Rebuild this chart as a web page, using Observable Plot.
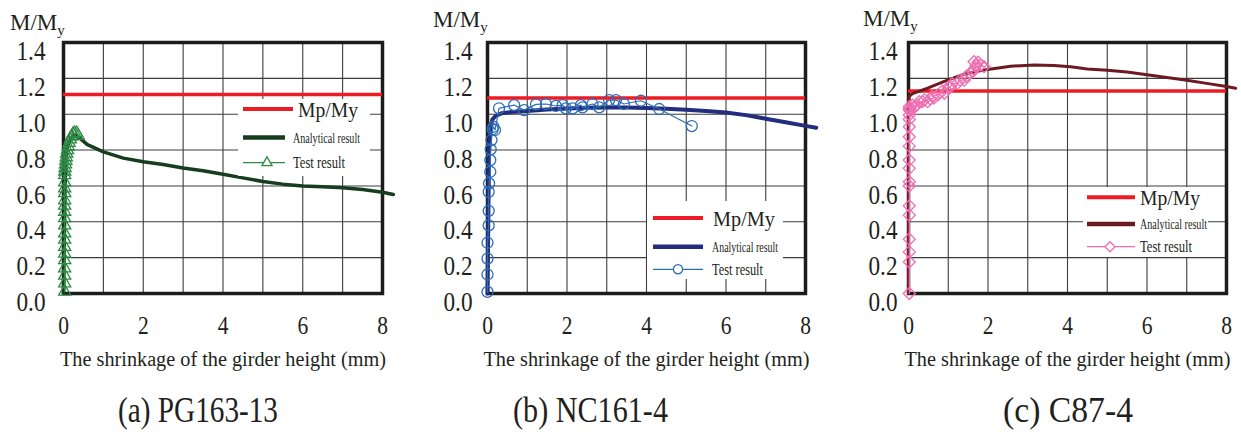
<!DOCTYPE html>
<html><head><meta charset="utf-8">
<script src="https://cdn.jsdelivr.net/npm/d3@7"></script>
<script src="https://cdn.jsdelivr.net/npm/@observablehq/plot@0.6"></script>
<style>
body{margin:0;background:#fff;font-family:"Liberation Serif","DejaVu Serif",serif;color:#231f20;}
#root{position:relative;width:1241px;height:437px;overflow:hidden;}
#root svg, #root svg text, #root svg tspan{font-family:"Liberation Serif","DejaVu Serif",serif !important;}
.abs{position:absolute;}
.ylab{font-size:23px;line-height:1;white-space:nowrap;}
.ylab sub{font-size:15px;vertical-align:-5px;line-height:0;}
.cap{font-size:36px;line-height:1;white-space:nowrap;transform-origin:0 0;}
</style></head><body><div id="root"></div>
<script>
// ---------- data ----------
const xTicks = [0, 2, 4, 6, 8];
const xGrid = [0, 1, 2, 3, 4, 5, 6, 7, 8];
const yTicks = [0, 0.2, 0.4, 0.6, 0.8, 1.0, 1.2, 1.4];
const xTitle = "The shrinkage of the girder height (mm)";
const yTitleMain = "M/M";
const yTitleSub = "y";
const captions = ["(a) PG163-13", "(b) NC161-4", "(c) C87-4"];
const legendLabels = ["Mp/My", "Analytical result", "Test result"];
const mpMy = [1.11, 1.09, 1.13];

const pgAnalytical = [[0,0],[0.02,0.3],[0.04,0.6],[0.06,0.75],[0.1,0.82],[0.18,0.86],[0.28,0.885],[0.36,0.875],[0.6,0.83],[1.0,0.79],[1.5,0.755],[2.0,0.735],[2.5,0.72],[3.0,0.70],[3.5,0.685],[4.0,0.665],[4.5,0.645],[5.0,0.625],[5.5,0.61],[6.0,0.60],[6.5,0.595],[7.0,0.59],[7.5,0.58],[8.0,0.565],[8.27,0.552]];
const pgTest = [[0.03,0.01],[0.03,0.056],[0.03,0.10],[0.03,0.14],[0.03,0.186],[0.03,0.223],[0.03,0.26],[0.03,0.30],[0.03,0.335],[0.03,0.38],[0.03,0.42],[0.03,0.456],[0.03,0.49],[0.03,0.52],[0.03,0.56],[0.03,0.586],[0.03,0.62],[0.03,0.66],[0.03,0.68],[0.04,0.70],[0.05,0.72],[0.06,0.74],[0.07,0.76],[0.08,0.78],[0.10,0.80],[0.12,0.82],[0.14,0.84],[0.17,0.86],[0.20,0.875],[0.24,0.89],[0.28,0.895],[0.33,0.895],[0.37,0.88]];

const ncAnalytical = [[0,0],[0.02,0.4],[0.04,0.8],[0.07,0.92],[0.12,0.97],[0.2,0.99],[0.35,1.005],[0.6,1.012],[1.0,1.018],[1.5,1.026],[2.0,1.032],[2.5,1.036],[3.0,1.038],[3.5,1.038],[4.0,1.035],[4.5,1.03],[5.0,1.025],[5.5,1.018],[6.0,1.01],[6.5,0.995],[7.0,0.975],[7.5,0.955],[8.0,0.935],[8.27,0.925]];
const ncTest = [[0,0.009],[0,0.106],[0,0.195],[0,0.283],[0.03,0.38],[0.03,0.461],[0.03,0.567],[0.04,0.614],[0.07,0.679],[0.07,0.744],[0.08,0.804],[0.1,0.856],[0.13,0.916],[0.15,0.93],[0.19,0.912],[0.29,1.033],[0.67,1.051],[0.92,1.023],[1.22,1.055],[1.47,1.057],[1.72,1.046],[1.89,1.051],[1.97,1.033],[2.14,1.033],[2.35,1.051],[2.39,1.038],[2.64,1.057],[2.81,1.038],[3.06,1.079],[3.23,1.079],[3.43,1.057],[3.86,1.075],[4.32,1.029],[5.14,0.934]];

const cAnalytical = [[0,0],[0.0,0.5],[0.0,1.0],[0.02,1.1],[0.1,1.115],[0.48,1.145],[0.98,1.19],[1.4,1.224],[1.99,1.25],[2.57,1.268],[3.16,1.275],[3.66,1.272],[4.08,1.265],[4.5,1.252],[5.0,1.245],[5.5,1.235],[6.0,1.22],[6.5,1.205],[7.0,1.19],[7.5,1.172],[8.0,1.155],[8.23,1.145]];
const cTest = [[0.02,0.0],[0.02,0.176],[0.02,0.232],[0.02,0.303],[0.02,0.437],[0.02,0.489],[0.02,0.6],[0.02,0.623],[0.02,0.698],[0.02,0.744],[0.02,0.822],[0.02,0.874],[0.02,0.93],[0.02,0.971],[0.02,0.996],[0.02,1.023],[0.02,1.042],[0.05,1.02],[0.1,1.05],[0.03,1.03],[0.15,1.04],[0.27,1.07],[0.2,1.05],[0.35,1.07],[0.48,1.07],[0.4,1.08],[0.55,1.085],[0.64,1.09],[0.6,1.1],[0.75,1.11],[0.9,1.117],[0.85,1.13],[1.0,1.15],[1.06,1.153],[1.1,1.17],[1.23,1.172],[1.3,1.19],[1.4,1.19],[1.45,1.21],[1.55,1.23],[1.61,1.237],[1.65,1.25],[1.7,1.27],[1.65,1.293],[1.82,1.275],[1.9,1.265],[1.75,1.29]];

// ---------- layout / style ----------
const FONT = "Liberation Serif";
const panels = [
  {left:0, w:414, ml:63, mr:32, yPad:18, mp:mpMy[0], analytical:pgAnalytical, test:pgTest,
   aColor:"#173d21", aWidth:3.5, tColor:"#2f8a45", symbol:"triangle2", r:5.8,
   ylab:{x:10,y:11}, cap:[118,160],
   leg:{x:238,y:99,w:132,h:77, rows:[109,137.5,162.7], l0:243, l1:[293,285,285], tx:[298,293,293], tw:[60,67,52], mk:267}},
  {left:414, w:414, ml:73, mr:23, yPad:15, mp:mpMy[1], analytical:ncAnalytical, test:ncTest,
   aColor:"#232d7e", aWidth:4, tColor:"#2e6db6", symbol:"circle", r:5.5,
   ylab:{x:433,y:8}, cap:[513,155],
   leg:{x:647,y:201,w:136,h:78, rows:[218,246.7,269.3], l0:653, l1:[703,703,703], tx:[713,712,712], tw:[62,66,51], mk:678}},
  {left:828, w:413, ml:80, mr:15, yPad:11, mp:mpMy[2], analytical:cAnalytical, test:cTest,
   aColor:"#6c1b22", aWidth:3, tColor:"#ef6eb1", symbol:"diamond2", r:5.4,
   ylab:{x:863,y:7}, cap:[1003,130],
   leg:{x:1083,y:187,w:125,h:70, rows:[197.3,224,246.7], l0:1087, l1:[1135,1135,1135], tx:[1140,1140,1140], tw:[60,67,52], mk:1110}}
];

const root = document.getElementById("root");
const symMap = {triangle2: d3.symbolTriangle2, circle: d3.symbolCircle, diamond2: d3.symbolDiamond2};

// narrow texts of an svg (already in the DOM) horizontally, keeping their anchor
function squeeze(svgNode) {
  d3.select(svgNode).selectAll("text").each(function() {
    const w = this.getComputedTextLength();
    const isTitle = this.textContent === xTitle;
    const target = isTitle ? 326 : w * 0.86;
    if (w > 0) {
      this.setAttribute("textLength", target.toFixed(2));
      this.setAttribute("lengthAdjust", "spacingAndGlyphs");
    }
  });
}

panels.forEach((p, i) => {
  const chart = Plot.plot({
    width: p.w, height: 380,
    marginLeft: p.ml, marginRight: p.mr, marginTop: 42, marginBottom: 87,
    x: {domain: [0, 8]},
    y: {domain: [0, 1.4]},
    style: {fontFamily: FONT, color: "#231f20", background: "transparent", overflow: "visible"},
    marks: [
      Plot.gridX({ticks: xGrid, stroke: "#3c3c3c", strokeOpacity: 1, strokeWidth: 1.1}),
      Plot.gridY({ticks: yTicks, stroke: "#3c3c3c", strokeOpacity: 1, strokeWidth: 1.1}),
      Plot.frame({stroke: "#1c1c1c", strokeWidth: 3.5}),
      Plot.axisY({ticks: yTicks, tickSize: 0, tickPadding: p.yPad, tickFormat: d3.format(".1f"), fontSize: 27, dy: 9, label: null, fontFamily: FONT}),
      Plot.axisX({ticks: xTicks, tickSize: 0, tickPadding: 23, tickFormat: d3.format("d"), fontSize: 25, label: null, fontFamily: FONT}),
      Plot.text([xTitle], {frameAnchor: "bottom", dy: 66, fontSize: 20.5, lineAnchor: "middle", fontFamily: FONT}),
      Plot.ruleY([p.mp], {stroke: "#ed1c24", strokeWidth: 3.5}),
      Plot.line(p.analytical, {x: d => d[0], y: d => d[1], stroke: p.aColor, strokeWidth: p.aWidth}),
      Plot.line(p.test, {x: d => d[0], y: d => d[1], stroke: p.tColor, strokeWidth: 1.2}),
      Plot.dot(p.test, {x: d => d[0], y: d => d[1], symbol: p.symbol, r: p.r, stroke: p.tColor, fill: "none", strokeWidth: 1.3})
    ]
  });
  chart.style.position = "absolute";
  chart.style.left = p.left + "px";
  chart.style.top = "0px";
  root.appendChild(chart);
  squeeze(chart);

  // y title
  const yl = document.createElement("div");
  yl.className = "abs ylab";
  yl.style.left = p.ylab.x + "px"; yl.style.top = p.ylab.y + "px";
  yl.innerHTML = yTitleMain + "<sub>" + yTitleSub + "</sub>";
  root.appendChild(yl);

  // caption (natural width measured, then squeezed to target width)
  const cp = document.createElement("div");
  cp.className = "abs cap";
  cp.style.left = p.cap[0] + "px"; cp.style.top = "392px";
  cp.textContent = captions[i];
  root.appendChild(cp);
  const nat = cp.getBoundingClientRect().width;
  cp.style.transform = `scale(${p.cap[1] / nat},1)`;

  // legend overlay
  const L = p.leg;
  const svg = d3.create("svg").attr("width", 1241).attr("height", 437)
    .style("position", "absolute").style("left", "0px").style("top", "0px").style("overflow", "visible");
  svg.append("rect").attr("x", L.x).attr("y", L.y).attr("width", L.w).attr("height", L.h).attr("fill", "#fff");
  const colors = ["#ed1c24", p.aColor, p.tColor];
  const widths = [4, 4.5, 1.3];
  const fs = [22, 14.5, 16];
  L.rows.forEach((ry, k) => {
    svg.append("line").attr("x1", L.l0).attr("x2", L.l1[k]).attr("y1", ry).attr("y2", ry)
      .attr("stroke", colors[k]).attr("stroke-width", widths[k]);
    svg.append("text").attr("x", L.tx[k]).attr("y", ry).attr("dy", "0.35em")
      .attr("font-size", fs[k])
      .attr("fill", "#231f20").attr("textLength", L.tw[k]).attr("lengthAdjust", "spacingAndGlyphs")
      .text(legendLabels[k]);
  });
  svg.append("path").attr("transform", `translate(${L.mk},${L.rows[2]})`)
    .attr("d", d3.symbol(symMap[p.symbol], Math.PI * p.r * p.r * 0.7)())
    .attr("fill", "#fff").attr("stroke", p.tColor).attr("stroke-width", 1.3);
  root.appendChild(svg.node());
});
</script></body></html>
